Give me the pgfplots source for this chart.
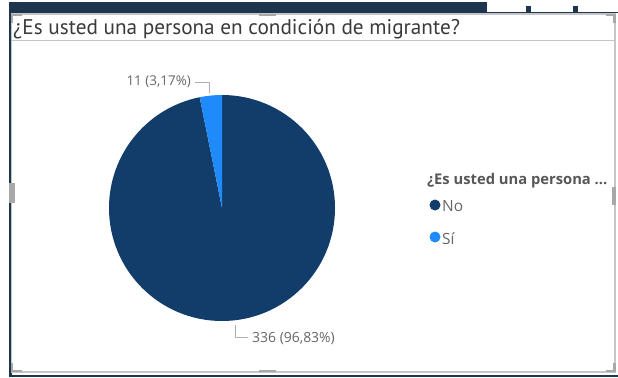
\documentclass[border=0pt]{standalone}
\usepackage{pgfplots}
\pgfplotsset{compat=1.18}
\usepackage{fontspec}
\setmainfont{Open Sans}
\newfontfamily\titlefont{PT Sans}
\definecolor{pieNo}{HTML}{123D6A}
\definecolor{pieSi}{HTML}{1F8BFA}
\definecolor{frameDark}{HTML}{1E3550}
\definecolor{frameGray}{HTML}{C6C6C6}
\definecolor{handleGray}{HTML}{A8A8A8}
\definecolor{txtGray}{HTML}{666666}
\definecolor{titleGray}{HTML}{3A3A3A}
\definecolor{leaderGray}{HTML}{B0B0B0}
\pgfplotstableread{
label value
No 336
Si 11
}\pietable
\begin{document}
\begin{tikzpicture}
\begin{scope}[x=1bp,y=1bp]
% canvas
\path[fill=white] (0,0) rectangle (618,377);
% dark frame pieces (screenshot background)
\fill[frameDark] (9,364) rectangle (487,375);
\fill[frameDark] (487,364) rectangle (618,365.2);
\fill[frameDark] (526,364) rectangle (531,371);
\fill[frameDark] (573,364) rectangle (578,371);
\fill[frameDark] (9,0) rectangle (11.5,364);
\fill[frameDark] (9,0) rectangle (618,2.5);
% panel
\fill[white] (11.5,5) rectangle (615,363);
\draw[frameGray, line width=1.2bp] (11.5,5) rectangle (615,363);
\draw[frameGray, line width=1.5bp] (11.5,336.5) -- (615,336.5);
% handles
\begin{scope}[handleGray, line width=2.2bp]
\draw (12,354) -- (12,362) -- (22,362);
\draw (606,362) -- (614.5,362) -- (614.5,354);
\draw (12,14) -- (12,6) -- (22,6);
\draw (606,6) -- (614.5,6) -- (614.5,14);
\draw (259,362) -- (276,362);
\draw (259,6) -- (276,6);
\fill (9,174) rectangle (15,194);
\fill (611.5,172) rectangle (616,190);
\end{scope}
% title
\node[anchor=base west, inner sep=0, text=titleGray, font=\titlefont\fontsize{21.3}{24}\selectfont] at (13,343) {¿Es usted una persona en condición de migrante?};
% data labels
\draw[leaderGray, line width=0.8bp] (195,295) -- (209,295) -- (209,284);
\node[anchor=east, inner sep=0, text=txtGray, font=\fontsize{13.5}{15}\selectfont] at (191,295.5) {11 (3,17\%)};
\draw[leaderGray, line width=0.8bp] (235,52) -- (235,40) -- (248,40);
\node[anchor=west, inner sep=0, text=txtGray, font=\fontsize{14}{16}\selectfont] at (252,38.5) {336 (96,83\%)};
% legend
\node[anchor=west, inner sep=0, text=titleGray!85, font=\bfseries\fontsize{14.8}{17}\selectfont] at (427,196) {¿Es usted una persona ...};
\fill[pieNo] (435,172) circle (5.5);
\node[anchor=west, inner sep=0, text=txtGray, font=\fontsize{15.5}{17}\selectfont] at (442,170.5) {No};
\fill[pieSi] (435,140) circle (5.5);
\node[anchor=west, inner sep=0, text=txtGray, font=\fontsize{15.5}{17}\selectfont] at (442,138.5) {Sí};
\end{scope}
% pie
\pgfplotstablegetelem{0}{value}\of\pietable \let\vNo\pgfplotsretval
\pgfplotstablegetelem{1}{value}\of\pietable \let\vSi\pgfplotsretval
\pgfmathsetmacro{\aNo}{360*(\vNo/(\vNo+\vSi))}
\pgfmathsetmacro{\eNo}{90-\aNo}
\begin{axis}[at={(222bp,169bp)}, anchor=origin, scale only axis, width=226bp, height=226bp,
  xmin=-1, xmax=1, ymin=-1, ymax=1, hide axis, clip=false]
\fill[pieNo] (axis cs:0,0) -- (axis cs:0,1) arc[start angle=90, end angle=\eNo, radius=113bp] -- cycle;
\fill[pieSi] (axis cs:0,0) -- (axis cs:{cos(\eNo)},{sin(\eNo)}) arc[start angle=\eNo, end angle=-270, radius=113bp] -- cycle;
\end{axis}
\end{tikzpicture}
\end{document}
